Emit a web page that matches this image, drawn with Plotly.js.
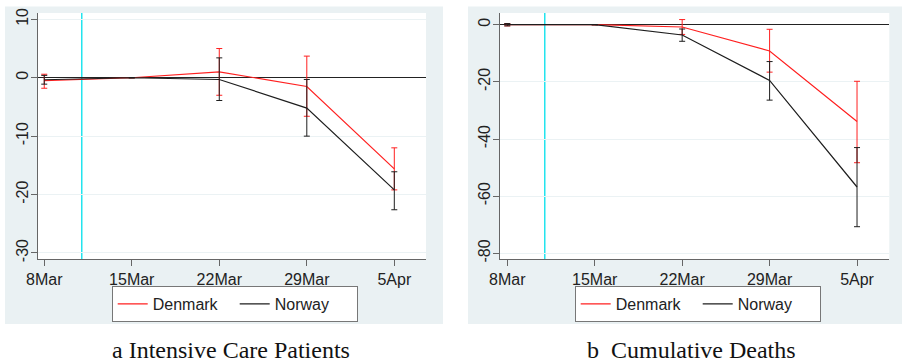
<!DOCTYPE html>
<html>
<head>
<meta charset="utf-8">
<script src="https://cdn.plot.ly/plotly-3.0.1.min.js"></script>
<style>
html,body{margin:0;padding:0;background:#fff;}
#chart{width:902px;height:363px;}
</style>
</head>
<body>
<div id="chart"></div>
<script>
// ---- data ----
const dates = ['2020-03-08', '2020-03-15', '2020-03-22', '2020-03-29', '2020-04-05'];
const tickLabels = ['8Mar', '15Mar', '22Mar', '29Mar', '5Apr'];
const lockdownDate = '2020-03-11';

// a Intensive Care Patients
const icuTickVals     = [-30, -20, -10, 0, 10];
const icuTickText     = ['-30', '-20', '-10', '0', '10'];
const icuDenmark      = [-0.5, 0, 1.0, -1.5, -15.6];
const icuDenmarkLow   = [-1.8, null, -3.0, -6.6, -19.2];
const icuDenmarkHigh  = [0.6, null, 5.0, 3.7, -12.0];
const icuNorway       = [-0.35, 0, -0.3, -5.2, -19.2];
const icuNorwayLow    = [-1.1, null, -3.9, -10.0, -22.6];
const icuNorwayHigh   = [0.4, null, 3.4, -0.3, -16.1];

// b Cumulative Deaths
const dthTickVals     = [-80, -60, -40, -20, 0];
const dthTickText     = ['-80', '-60', '-40', '-20', '0'];
const dthDenmark      = [0, 0, -0.8, -9.2, -33.9];
const dthDenmarkLow   = [-0.4, null, -3.4, -16.6, -48.3];
const dthDenmarkHigh  = [0.4, null, 1.8, -1.6, -19.8];
const dthNorway       = [0, 0, -3.6, -19.5, -56.8];
const dthNorwayLow    = [-0.4, null, -5.8, -26.4, -70.7];
const dthNorwayHigh   = [0.4, null, -1.5, -12.9, -43.0];

const seriesNames = ['Denmark', 'Norway'];
const captions = ['a Intensive Care Patients', 'b\u00a0\u00a0Cumulative Deaths'];

// ---- styling ----
const RED = '#ff2020';
const BLACK = '#1e1e1e';
const W = 902, H = 363;
const px = v => v / W;
const py = v => 1 - v / H;

function errs(mean, lo, hi) {
  return {
    type: 'data', symmetric: false,
    array: hi.map((h, i) => h === null ? null : h - mean[i]),
    arrayminus: lo.map((l, i) => l === null ? null : mean[i] - l),
    thickness: 1, width: 3
  };
}
function trace(name, y, lo, hi, color, xa, ya, legend, show) {
  const e = errs(y, lo, hi); e.color = color;
  return {
    type: 'scatter', mode: 'lines', name: name, x: dates, y: y,
    xaxis: xa, yaxis: ya, legend: legend, showlegend: show,
    line: {color: color, width: 1.2}, error_y: e
  };
}

const data = [
  trace(seriesNames[0], icuDenmark, icuDenmarkLow, icuDenmarkHigh, RED, 'x', 'y', 'legend', true),
  trace(seriesNames[1], icuNorway, icuNorwayLow, icuNorwayHigh, BLACK, 'x', 'y', 'legend', true),
  trace(seriesNames[0], dthDenmark, dthDenmarkLow, dthDenmarkHigh, RED, 'x2', 'y2', 'legend2', true),
  trace(seriesNames[1], dthNorway, dthNorwayLow, dthNorwayHigh, BLACK, 'x2', 'y2', 'legend2', true)
];

const tickFont = {family: 'Liberation Sans, Arial, sans-serif', size: 16, color: '#222'};
function xaxis(domain, range) {
  return {
    domain: domain, type: 'date', range: range,
    tickvals: dates, ticktext: tickLabels,
    showgrid: false, zeroline: false,
    showline: true, linecolor: '#666', linewidth: 1,
    ticks: 'outside', ticklen: 6, tickcolor: '#666', tickwidth: 1,
    tickfont: tickFont, fixedrange: true
  };
}
function yaxis(range, tv, tt, anchor) {
  return {
    domain: [py(259), py(13)], range: range, anchor: anchor,
    tickvals: tv, ticktext: tt, tickangle: -90, ticklabelstandoff: -3,
    showgrid: true, gridcolor: '#ebf2f4', gridwidth: 1,
    zeroline: true, zerolinecolor: '#222', zerolinewidth: 1,
    showline: true, linecolor: '#666', linewidth: 1,
    ticks: 'outside', ticklen: 6, tickcolor: '#666', tickwidth: 1,
    tickfont: tickFont, fixedrange: true
  };
}

const BG = '#eaf1f3';
const legendStyle = (x) => ({
  orientation: 'h', x: x, xanchor: 'left', y: py(286), yanchor: 'top',
  bgcolor: '#fff', bordercolor: '#777', borderwidth: 1,
  font: {family: 'Liberation Sans, Arial, sans-serif', size: 16, color: '#222'},
  entrywidth: 77, traceorder: 'normal'
});

const layout = {
  width: W, height: H,
  margin: {l: 0, r: 0, t: 0, b: 0},
  paper_bgcolor: '#fff', plot_bgcolor: '#fff',
  xaxis: xaxis([px(38), px(426)], ['2020-03-07 12:00', '2020-04-07 12:50']),
  yaxis: yaxis([-31.03, 11.08], icuTickVals, icuTickText, 'x'),
  xaxis2: xaxis([px(500), px(889.3)], ['2020-03-07 10:00', '2020-04-07 14:00']),
  yaxis2: yaxis([-82, 4.1], dthTickVals, dthTickText, 'x2'),
  showlegend: true,
  legend: legendStyle(px(111.7)),
  legend2: legendStyle(px(574.7)),
  shapes: [
    {type: 'rect', xref: 'paper', yref: 'paper', x0: px(5), x1: px(443), y0: py(324), y1: py(6.5),
     fillcolor: BG, line: {width: 0}, layer: 'below'},
    {type: 'rect', xref: 'paper', yref: 'paper', x0: px(468), x1: px(902), y0: py(324), y1: py(6.5),
     fillcolor: BG, line: {width: 0}, layer: 'below'},
    {type: 'rect', xref: 'paper', yref: 'paper', x0: px(38), x1: px(426), y0: py(259), y1: py(13),
     fillcolor: '#fff', line: {width: 0}, layer: 'below'},
    {type: 'rect', xref: 'paper', yref: 'paper', x0: px(500), x1: px(889.3), y0: py(259), y1: py(13),
     fillcolor: '#fff', line: {width: 0}, layer: 'below'},
    {type: 'line', xref: 'x', yref: 'y domain', x0: lockdownDate, x1: lockdownDate, y0: 0, y1: 1,
     line: {color: '#22e4ee', width: 1.5}, layer: 'below'},
    {type: 'line', xref: 'x2', yref: 'y2 domain', x0: lockdownDate, x1: lockdownDate, y0: 0, y1: 1,
     line: {color: '#22e4ee', width: 1.5}, layer: 'below'}
  ],
  annotations: [
    {text: captions[0], xref: 'paper', yref: 'paper', x: px(231), y: py(350), xanchor: 'center', yanchor: 'middle',
     showarrow: false, font: {family: 'Liberation Serif, Times New Roman, serif', size: 24, color: '#111'}},
    {text: captions[1], xref: 'paper', yref: 'paper', x: px(691.3), y: py(350), xanchor: 'center', yanchor: 'middle',
     showarrow: false, font: {family: 'Liberation Serif, Times New Roman, serif', size: 24, color: '#111'}}
  ]
};

Plotly.newPlot('chart', data, layout, {displayModeBar: false, staticPlot: true});
</script>
</body>
</html>
